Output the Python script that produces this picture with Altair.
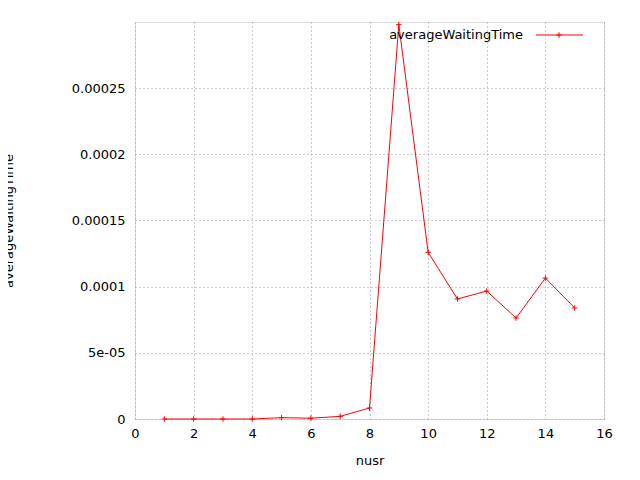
import altair as alt
import pandas as pd

nusr = [1,2,3,4,5,6,7,8,9,10,11,12,13,14,15]
awt = [0,0,0,0,0.000001,0.0000006,0.000002,0.0000083,0.000298,0.000126,0.0000907,0.0000967,0.0000763,0.0001065,0.0000839]
ylabels = ['0','5e-05','0.0001','0.00015','0.0002','0.00025','0.0003']

df = pd.DataFrame({"nusr": nusr, "awt": awt})
F = "DejaVu Sans"
PLUS = "M-1,0L1,0M0,-1L0,1"

base = alt.Chart(df)
x = alt.X("nusr:Q", scale=alt.Scale(domain=[0,16], nice=False),
          axis=alt.Axis(values=list(range(0,17,2)), title="nusr", grid=True,
                        gridDash=[1,3], gridColor="#999", ticks=False, domain=False,
                        labelFlush=False, labelOverlap=False,
                        labelFont=F, labelFontSize=13, labelColor="black", labelPadding=8,
                        titleFont=F, titleFontSize=13, titleFontWeight="normal", titlePadding=14))
y = alt.Y("awt:Q", scale=alt.Scale(domain=[0,0.0003], nice=False),
          axis=alt.Axis(values=[i*0.00005 for i in range(7)], title="averageWaitingTime",
                        labelExpr="%s[round(datum.value/0.00005)]" % str(ylabels),
                        labelFlush=False, labelOverlap=False,
                        grid=True, gridDash=[1,3], gridColor="#999", ticks=False, domain=False,
                        labelFont=F, labelFontSize=13, labelColor="black", labelPadding=10,
                        titleFont=F, titleFontSize=13, titleFontWeight="normal", titlePadding=56))

line = base.mark_line(color="red", strokeWidth=1).encode(x=x, y=y)
pts = base.mark_point(shape=PLUS, color="red", size=30, strokeWidth=1, filled=False, opacity=1).encode(x="nusr:Q", y="awt:Q")

leg_t = alt.Chart(pd.DataFrame({"t":["averageWaitingTime"]})).mark_text(
    font=F, fontSize=13, align="right", baseline="middle").encode(
    text="t:N", x=alt.value(388), y=alt.value(13))
leg_l = alt.Chart(pd.DataFrame({"a":[0]})).mark_rule(color="red").encode(
    x=alt.value(401), x2=alt.value(448), y=alt.value(13))
leg_p = alt.Chart(pd.DataFrame({"a":[0]})).mark_point(shape=PLUS, color="red", size=30, strokeWidth=1, opacity=1).encode(
    x=alt.value(424), y=alt.value(13))

chart = alt.layer(line, pts, leg_t, leg_l, leg_p).properties(
    width=469, height=397,
    autosize=alt.AutoSizeParams(type="none"),
    padding={"left":127, "top":14, "right":28, "bottom":53},
).configure_view(stroke="black", strokeWidth=1).configure(background="white")

chart.save("out.html", embed_options={"renderer": "svg", "actions": False})
